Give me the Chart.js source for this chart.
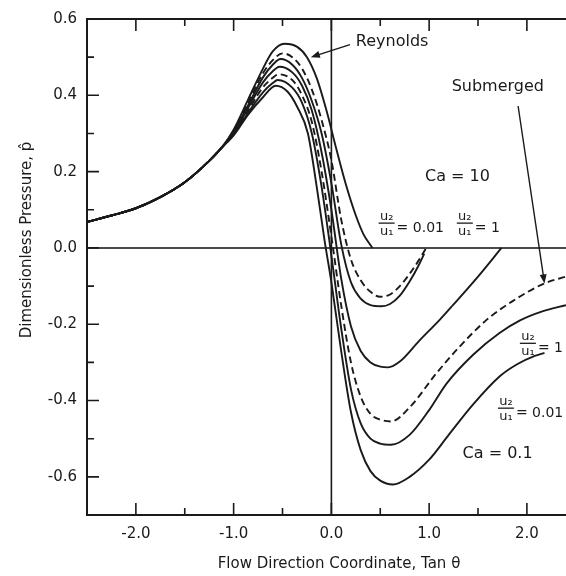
<!DOCTYPE html>
<html>
<head>
<meta charset="utf-8">
<script src="https://cdn.jsdelivr.net/npm/chart.js@4.4.1/dist/chart.umd.min.js"></script>
<style>
  html, body { margin: 0; padding: 0; background: #fff; overflow: hidden; }
  #wrap { width: 566px; height: 576px; }
</style>
</head>
<body>
<div id="wrap"><canvas id="pressure" width="566" height="576"></canvas></div>
<script>
// tick positions
const xLabelTicks = [-2, -1, 0, 1, 2];
const xMinorTicks = [-1.5, -0.5, 0.5, 1.5];
const yLabelTicks = [-0.6, -0.4, -0.2, 0, 0.2, 0.4, 0.6];
const yMinorTicks = [-0.5, -0.3, -0.1, 0.1, 0.3, 0.5];

// inflow side, where every case collapses onto one curve
const xInflow = [-2.5, -2.25, -2.0, -1.75, -1.5, -1.25, -1.125];
const pInflow = [0.068, 0.085, 0.104, 0.133, 0.172, 0.228, 0.262];

// rigid Reynolds solution (ends where p = dp/dx = 0)
const xReynolds = [-1.0, -0.85, -0.7, -0.6, -0.48, -0.35, -0.25, -0.15, -0.05, 0.05, 0.15, 0.25, 0.33, 0.42];
const pReynolds = [0.31, 0.39, 0.47, 0.515, 0.535, 0.527, 0.50, 0.445, 0.36, 0.26, 0.165, 0.085, 0.035, 0.0];

// Ca = 10
const xSubmerged10 = [-1.0, -0.85, -0.7, -0.6, -0.5, -0.4, -0.3, -0.2, -0.1, 0, 0.1, 0.2, 0.3, 0.4, 0.5, 0.6, 0.7, 0.8, 0.9, 0.97];
const pSubmerged10 = [0.307, 0.382, 0.458, 0.492, 0.51, 0.50, 0.47, 0.415, 0.335, 0.23, 0.075, -0.03, -0.085, -0.115, -0.128, -0.122, -0.10, -0.068, -0.03, 0.0];
const xRatio001Ca10 = [-1.0, -0.85, -0.7, -0.6, -0.52, -0.4, -0.3, -0.2, -0.1, 0, 0.1, 0.2, 0.3, 0.4, 0.51, 0.6, 0.7, 0.8, 0.9, 0.95];
const pRatio001Ca10 = [0.304, 0.375, 0.447, 0.48, 0.495, 0.48, 0.445, 0.385, 0.30, 0.17, 0.01, -0.09, -0.133, -0.15, -0.153, -0.147, -0.125, -0.088, -0.042, -0.015];
const xRatio1Ca10 = [-1.0, -0.85, -0.7, -0.6, -0.53, -0.4, -0.3, -0.2, -0.1, 0, 0.1, 0.2, 0.3, 0.4, 0.5, 0.58, 0.7, 0.9, 1.11, 1.25, 1.5, 1.74];
const pRatio1Ca10 = [0.301, 0.368, 0.434, 0.463, 0.475, 0.46, 0.425, 0.36, 0.25, 0.1, -0.08, -0.205, -0.27, -0.30, -0.311, -0.313, -0.298, -0.243, -0.188, -0.148, -0.075, 0.0];

// Ca = 0.1
const xSubmerged01 = [-1.0, -0.85, -0.7, -0.6, -0.54, -0.4, -0.3, -0.2, -0.1, 0, 0.1, 0.2, 0.3, 0.4, 0.5, 0.61, 0.8, 1.07, 1.3, 1.59, 1.85, 2.17, 2.4];
const pSubmerged01 = [0.299, 0.361, 0.421, 0.446, 0.455, 0.44, 0.40, 0.33, 0.20, 0.03, -0.15, -0.30, -0.39, -0.435, -0.45, -0.455, -0.418, -0.33, -0.262, -0.188, -0.14, -0.094, -0.075];
const xRatio1Ca01 = [-1.0, -0.85, -0.7, -0.6, -0.55, -0.4, -0.3, -0.2, -0.1, 0, 0.1, 0.2, 0.3, 0.4, 0.5, 0.61, 0.8, 1.0, 1.18, 1.45, 1.72, 1.93, 2.15, 2.4];
const pRatio1Ca01 = [0.297, 0.355, 0.408, 0.432, 0.44, 0.42, 0.38, 0.30, 0.16, -0.02, -0.21, -0.37, -0.46, -0.50, -0.513, -0.516, -0.49, -0.425, -0.355, -0.28, -0.223, -0.19, -0.167, -0.15];
const xRatio001Ca01 = [-1.0, -0.85, -0.7, -0.57, -0.45, -0.35, -0.24, -0.15, -0.07, 0, 0.1, 0.2, 0.3, 0.4, 0.5, 0.63, 0.8, 1.0, 1.2, 1.45, 1.72, 1.9, 2.08, 2.18];
const pRatio001Ca01 = [0.295, 0.35, 0.395, 0.425, 0.41, 0.37, 0.30, 0.16, 0.02, -0.09, -0.27, -0.43, -0.53, -0.585, -0.61, -0.62, -0.60, -0.555, -0.49, -0.41, -0.337, -0.305, -0.283, -0.275];

const INK = '#1a1a1a';
const FONT = '"DejaVu Sans", "Liberation Sans", sans-serif';

function curve(xs, ps) {
  const pts = xInflow.map((x, i) => ({ x, y: pInflow[i] }));
  xs.forEach((x, i) => pts.push({ x, y: ps[i] }));
  return pts;
}

function series(label, xs, ps, dashed) {
  return {
    label,
    data: curve(xs, ps),
    borderColor: INK,
    borderWidth: 1.9,
    borderDash: dashed ? [7, 4] : [],
    pointRadius: 0,
    fill: false,
    cubicInterpolationMode: 'monotone'
  };
}

// frame, zero lines and inward tick marks
const framePlugin = {
  id: 'frame',
  beforeDatasetsDraw(chart) {
    const { ctx, chartArea: { left, right, top, bottom } } = chart;
    const sx = chart.scales.x, sy = chart.scales.y;
    ctx.save();
    ctx.lineCap = 'butt';

    ctx.strokeStyle = '#4a4a4a';
    ctx.lineWidth = 2;
    const y0 = sy.getPixelForValue(0);
    ctx.beginPath(); ctx.moveTo(left, y0); ctx.lineTo(right, y0); ctx.stroke();

    ctx.strokeStyle = INK;
    ctx.lineWidth = 1.6;
    const x0 = sx.getPixelForValue(0);
    ctx.beginPath(); ctx.moveTo(x0, top); ctx.lineTo(x0, bottom); ctx.stroke();

    ctx.lineWidth = 2;
    ctx.beginPath();
    ctx.moveTo(right, top); ctx.lineTo(left, top); ctx.lineTo(left, bottom); ctx.lineTo(right, bottom);
    ctx.stroke();

    ctx.lineWidth = 1.6;
    ctx.beginPath();
    const xTick = (v, len) => {
      const x = sx.getPixelForValue(v);
      ctx.moveTo(x, bottom); ctx.lineTo(x, bottom - len);
      ctx.moveTo(x, top); ctx.lineTo(x, top + len);
    };
    xLabelTicks.forEach(v => xTick(v, 12));
    xMinorTicks.forEach(v => xTick(v, 7));
    const yTick = (v, len) => {
      const y = sy.getPixelForValue(v);
      ctx.moveTo(left, y); ctx.lineTo(left + len, y);
    };
    yLabelTicks.forEach(v => yTick(v, 12));
    yMinorTicks.forEach(v => yTick(v, 7));
    ctx.stroke();
    ctx.restore();
  }
};

function arrow(ctx, x1, y1, x2, y2) {
  const a = Math.atan2(y2 - y1, x2 - x1);
  ctx.beginPath(); ctx.moveTo(x1, y1); ctx.lineTo(x2 - 6 * Math.cos(a), y2 - 6 * Math.sin(a)); ctx.stroke();
  ctx.beginPath();
  ctx.moveTo(x2, y2);
  ctx.lineTo(x2 - 9 * Math.cos(a) + 3.5 * Math.sin(a), y2 - 9 * Math.sin(a) - 3.5 * Math.cos(a));
  ctx.lineTo(x2 - 9 * Math.cos(a) - 3.5 * Math.sin(a), y2 - 9 * Math.sin(a) + 3.5 * Math.cos(a));
  ctx.closePath(); ctx.fill();
}

// u2/u1 = value, stacked fraction
function ratio(ctx, cx, cy, rhs) {
  ctx.textAlign = 'center';
  ctx.textBaseline = 'alphabetic';
  ctx.font = '13px ' + FONT;
  ctx.fillText('u\u2082', cx, cy - 3);
  ctx.fillText('u\u2081', cx, cy + 12);
  ctx.lineWidth = 1.3;
  ctx.beginPath(); ctx.moveTo(cx - 8, cy); ctx.lineTo(cx + 8, cy); ctx.stroke();
  ctx.font = '14px ' + FONT;
  ctx.textAlign = 'left';
  ctx.textBaseline = 'middle';
  ctx.fillText('= ' + rhs, cx + 10, cy + 5);
}

const notesPlugin = {
  id: 'notes',
  afterDatasetsDraw(chart) {
    const { ctx } = chart;
    const X = v => chart.scales.x.getPixelForValue(v);
    const Y = v => chart.scales.y.getPixelForValue(v);
    ctx.save();
    ctx.fillStyle = INK;
    ctx.strokeStyle = INK;
    ctx.lineWidth = 1.4;

    ctx.font = '16px ' + FONT;
    ctx.textBaseline = 'middle';
    ctx.textAlign = 'left';
    ctx.fillText('Reynolds', X(0.25), Y(0.539));
    ctx.fillText('Submerged', X(1.23), Y(0.421));
    ctx.textAlign = 'center';
    ctx.fillText('Ca = 10', X(1.29), Y(0.186));
    ctx.fillText('Ca = 0.1', X(1.70), Y(-0.539));

    arrow(ctx, X(0.19), Y(0.533), X(-0.21), Y(0.50));
    arrow(ctx, X(1.91), Y(0.372), X(2.18), Y(-0.093));

    ratio(ctx, X(0.565), Y(0.065), '0.01');
    ratio(ctx, X(1.365), Y(0.065), '1');
    ratio(ctx, X(2.01), Y(-0.25), '1');
    ratio(ctx, X(1.785), Y(-0.42), '0.01');

    // axis titles
    ctx.font = '15px ' + FONT;
    ctx.textAlign = 'center';
    ctx.textBaseline = 'middle';
    ctx.fillText('Flow Direction Coordinate, Tan \u03b8', 339, 564);
    ctx.translate(27, 240);
    ctx.rotate(-Math.PI / 2);
    ctx.fillText('Dimensionless Pressure, p\u0302', 0, 0);
    ctx.restore();
  }
};

new Chart(document.getElementById('pressure'), {
  type: 'line',
  data: {
    datasets: [
      series('Reynolds', xReynolds, pReynolds, false),
      series('Submerged, Ca = 10', xSubmerged10, pSubmerged10, true),
      series('u2/u1 = 0.01, Ca = 10', xRatio001Ca10, pRatio001Ca10, false),
      series('u2/u1 = 1, Ca = 10', xRatio1Ca10, pRatio1Ca10, false),
      series('Submerged, Ca = 0.1', xSubmerged01, pSubmerged01, true),
      series('u2/u1 = 1, Ca = 0.1', xRatio1Ca01, pRatio1Ca01, false),
      series('u2/u1 = 0.01, Ca = 0.1', xRatio001Ca01, pRatio001Ca01, false)
    ]
  },
  options: {
    responsive: false,
    animation: false,
    layout: { padding: { top: 15, right: 0, left: 0, bottom: 0 } },
    plugins: { legend: { display: false }, tooltip: { enabled: false } },
    scales: {
      x: {
        type: 'linear',
        min: -2.5,
        max: 2.4,
        grid: { display: false, drawTicks: false },
        border: { display: false },
        afterBuildTicks: s => { s.ticks = xLabelTicks.map(v => ({ value: v })); },
        afterFit: s => { s.height = 61; },
        ticks: {
          padding: 10,
          color: INK,
          font: { family: FONT, size: 15 },
          callback: v => v.toFixed(1)
        }
      },
      y: {
        min: -0.7,
        max: 0.6,
        grid: { display: false, drawTicks: false },
        border: { display: false },
        afterBuildTicks: s => { s.ticks = yLabelTicks.map(v => ({ value: v })); },
        afterFit: s => { s.width = 87; },
        ticks: {
          padding: 10,
          color: INK,
          font: { family: FONT, size: 15 },
          callback: v => v.toFixed(1)
        }
      }
    }
  },
  plugins: [framePlugin, notesPlugin]
});
</script>
</body>
</html>
